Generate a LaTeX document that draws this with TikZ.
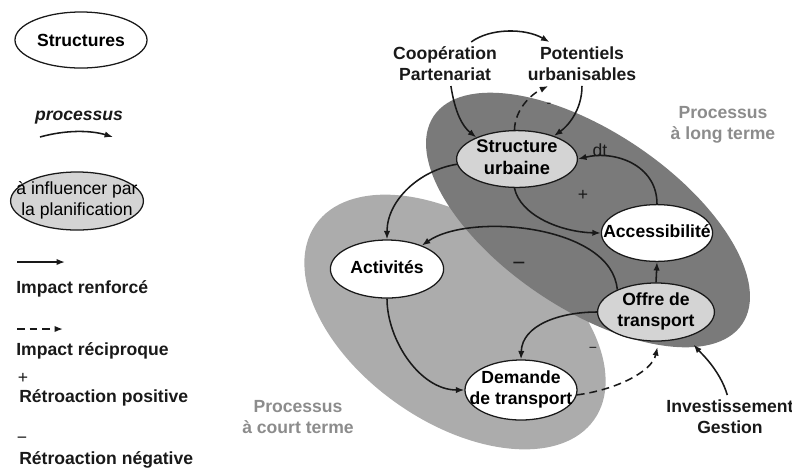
\documentclass[tikz,border=0pt]{standalone}
\usepackage{fontspec}
\setmainfont{Liberation Sans}
\usepackage{tikz}
\usetikzlibrary{shapes.geometric, arrows.meta, positioning}
\definecolor{zonedark}{RGB}{122,122,122}
\definecolor{zonelight}{RGB}{172,172,172}
\definecolor{ovalgrey}{RGB}{212,212,212}
\definecolor{zonetext}{RGB}{140,140,140}
\definecolor{inkdark}{RGB}{25,25,25}
\newcommand{\diagfont}{\fontsize{12.5}{15}\selectfont}
\newcommand{\ovaltext}[1]{\makebox[0pt]{\raisebox{-0.25em}[0pt][0pt]{\begin{tabular}{@{}c@{}}#1\end{tabular}}}}
\tikzset{
  longzone/.style={fill=zonedark},
  shortzone/.style={fill=zonelight},
  whiteoval/.style={ellipse, draw=inkdark, fill=white, line width=0.9pt,
    inner sep=0pt, font=\diagfont\bfseries},
  greyoval/.style={whiteoval, fill=ovalgrey},
  lbl/.style={align=center, font=\diagfont\bfseries, text=inkdark},
  zonelbl/.style={lbl, text=zonetext},
  legtext/.style={anchor=west, inner sep=0pt, font=\diagfont\bfseries, text=inkdark},
  sign/.style={font=\diagfont, text=inkdark},
  arrow/.style={-{Latex[length=6pt,width=4.5pt]}, line width=1.1pt, color=inkdark},
  dasharrow/.style={arrow, dash pattern=on 5.5pt off 3.5pt}
}
\begin{document}
\begin{tikzpicture}[x=0.025cm, y=-0.025cm]
  \useasboundingbox (0,0) rectangle (792,470);

  % Zones
  \fill[shortzone, rotate around={-35:(455,322)}] (455,322) ellipse [x radius=170, y radius=100];
  \fill[longzone, rotate around={-34:(588,220)}] (588,220) ellipse [x radius=186, y radius=88.5];
  \node[zonelbl] (longlbl) at (723,125) {Processus\\à long terme};
  \node[zonelbl] (shortlbl) at (298,417) {Processus\\à court terme};

  % Legend
  \node[whiteoval, minimum width=3.3cm, minimum height=1.4cm] (legstruct) at (81,40) {Structures};
  \node[lbl, font=\diagfont\bfseries\itshape] (legproc) at (79,118) {processus};
  \coordinate (procA) at (40,137);
  \coordinate (procB) at (113,137);
  \draw[arrow] (procA) .. controls (65,130) and (90,130) .. (procB);
  \node[greyoval, font=\diagfont, minimum width=3.32cm, minimum height=1.45cm] (legplan) at (77,201)
    {\ovaltext{à influencer par\\la planification}};
  \coordinate (solidA) at (17,262);
  \coordinate (solidB) at (65,262);
  \draw[arrow] (solidA) -- (solidB);
  \node[legtext] (legsolid) at (16,289) {Impact renforcé};
  \coordinate (dashA) at (17,329);
  \coordinate (dashB) at (63,329);
  \draw[dasharrow] (dashA) -- (dashB);
  \node[legtext] (legdash) at (16,351) {Impact réciproque};
  \node[sign] (legplus) at (23,378) {+};
  \node[legtext] (legpos) at (19,398) {Rétroaction positive};
  \node[sign] (legminus) at (22,440) {−};
  \node[legtext] (legneg) at (19,460) {Rétroaction négative};

  % Structures
  \node[greyoval, font=\fontsize{13}{15.5}\selectfont\bfseries, minimum width=3.02cm, minimum height=1.42cm] (su) at (517,159) {\ovaltext{Structure\\urbaine}};
  \node[whiteoval, minimum width=2.78cm, minimum height=1.42cm] (access) at (657,233) {\ovaltext{Accessibilité}};
  \node[greyoval, minimum width=2.92cm, minimum height=1.45cm] (offre) at (656,312) {\ovaltext{Offre de\\transport}};
  \node[whiteoval, minimum width=2.83cm, minimum height=1.45cm] (activ) at (387,269) {\ovaltext{Activités}};
  \node[whiteoval, minimum width=2.8cm, minimum height=1.5cm] (demande) at (521,390) {\ovaltext{Demande\\de transport}};

  % Outside actors
  \node[lbl] (coop) at (445,64) {Coopération\\Partenariat};
  \node[lbl] (potent) at (582,64) {Potentiels\\urbanisables};
  \node[lbl] (invest) at (730,417) {Investissement\\Gestion};

  % Feedback signs
  \node[sign] (dtlbl) at (600,150) {dt};
  \node[sign] (plusfb) at (583,195) {+};
  \node[sign, font=\fontsize{16}{16}\selectfont] (minusbig) at (519,266) {−};
  \node[sign, font=\fontsize{10}{10}\selectfont] (minusdem) at (593,350) {−};
  \node[sign, font=\fontsize{10}{10}\selectfont] (minuspot) at (549,105) {-};

  % Processes
  \draw[arrow] (coop.40) .. controls (490,28) and (525,28) .. (potent.146);
  \draw[arrow] (coop.-75) .. controls (455,112) and (462,126) .. (su.152);
  \draw[arrow] (potent.south) .. controls (582,110) and (568,126) .. (su.32);
  \draw[dasharrow] (su.95) .. controls (515,110) and (530,95) .. (potent.-147);
  \draw[arrow] (su.185) .. controls (420,170) and (387,200) .. (activ.north);
  \draw[arrow] (su.265) .. controls (520,215) and (560,232) .. (access.west);
  \draw[arrow] (access.north) .. controls (657,165) and (615,150) .. (su.east);
  \draw[arrow] (offre.150) .. controls (612,225) and (470,212) .. (activ.34);
  \draw[arrow] (offre.north) -- (access.south);
  \draw[arrow] (offre.180) .. controls (560,312) and (522,325) .. (demande.north);
  \draw[arrow] (activ.south) .. controls (387,340) and (420,390) .. (demande.west);
  \draw[dasharrow, shorten >=4pt] (demande.-5) .. controls (615,390) and (652,372) .. (offre.-85);
  \draw[arrow, shorten >=7pt] (invest.97) .. controls (720,370) and (700,352) .. (offre.-39);
\end{tikzpicture}
\end{document}
